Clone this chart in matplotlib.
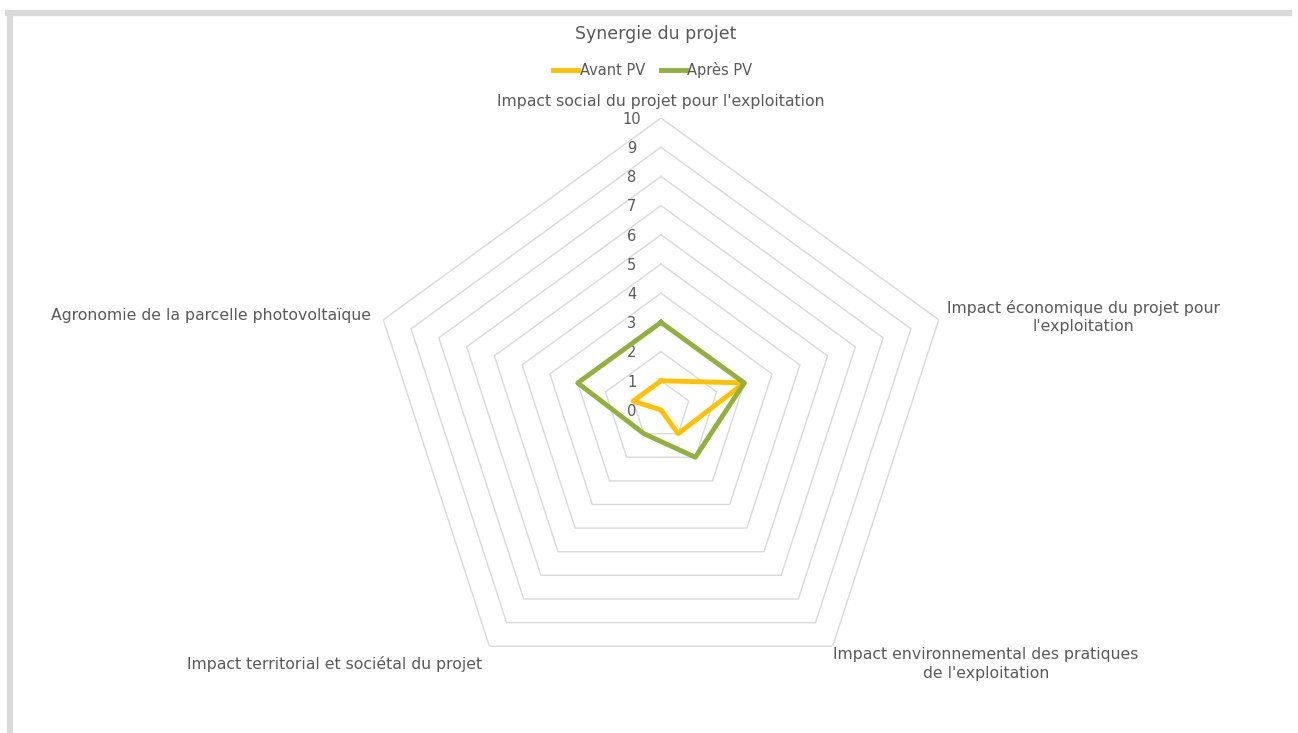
import numpy as np
import matplotlib
matplotlib.use('Agg')
import matplotlib.pyplot as plt
from matplotlib.lines import Line2D

# Radar chart "Synergie du projet" - before / after PV

categories = ["Impact social du projet pour l'exploitation",
              "Impact économique du projet pour\nl'exploitation",
              "Impact environnemental des pratiques\nde l'exploitation",
              "Impact territorial et sociétal du projet",
              "Agronomie de la parcelle photovoltaïque"]
avant_pv = [1, 3, 1, 0, 1]
apres_pv = [3, 3, 2, 1, 3]
levels = list(range(0, 11))

text_col = '#595959'
grid_col = '#d9d9d9'

fig = plt.figure(figsize=(12.98, 7.33), dpi=100)
fig.patch.set_facecolor('white')

# frame of the screenshot (top and left edge)
fig.add_artist(Line2D([0.006, 0.993], [0.982, 0.982], color='#d9d9d9', lw=4.5,
                      transform=fig.transFigure))
fig.add_artist(Line2D([0.0075, 0.0075], [0.0, 0.982], color='#d9d9d9', lw=4.5,
                      transform=fig.transFigure))

cx, cy, rad = 661 / 1298, 1 - 410 / 733, 292
ax = fig.add_axes([cx - rad / 1298, cy - rad / 733, 2 * rad / 1298, 2 * rad / 733],
                  projection='polar')
ax.set_theta_offset(np.pi / 2)
ax.set_theta_direction(-1)
ax.set_ylim(0, 10)
ax.grid(False)
ax.spines['polar'].set_visible(False)
ax.set_xticks([])
ax.set_yticks([])
ax.patch.set_alpha(0)

n = len(categories)
theta = np.linspace(0, 2 * np.pi, n, endpoint=False)
theta_c = np.append(theta, theta[0])

# pentagon grid
for lv in levels[1:]:
    ax.plot(theta_c, [lv] * (n + 1), color=grid_col, lw=1, zorder=1)

# value labels along the top axis
for lv in levels:
    ax.annotate(str(lv), xy=(0, lv), xytext=(-21, -1), textcoords='offset points',
                ha='center', va='center', fontsize=10.5, color=text_col,
                annotation_clip=False)

ax.plot(theta_c, avant_pv + avant_pv[:1], color='#FFC000', lw=3.5, zorder=3,
        label='Avant PV', solid_joinstyle='round')
ax.plot(theta_c, apres_pv + apres_pv[:1], color='#92B03C', lw=3.5, zorder=3,
        label='Après PV', solid_joinstyle='round')

# category labels
lab_pos = [(0, 10.3, 'center', 'bottom'),
           (theta[1], 10.3, 'left', 'center'),
           (theta[2], 10.05, 'left', 'top'),
           (theta[3], 10.4, 'right', 'top'),
           (theta[4], 10.45, 'right', 'center')]
for (t, r, ha, va), lab in zip(lab_pos, categories):
    ax.text(t, r, lab, ha=ha, va=va, fontsize=11.3, color=text_col,
            multialignment='center', linespacing=1.3)

fig.text(0.505, 0.953, 'Synergie du projet', ha='center', va='center',
         fontsize=12.5, color=text_col)
fig.legend(loc='center', bbox_to_anchor=(0.503, 0.905), ncol=2, frameon=False,
           fontsize=10.5, handlelength=1.7, handletextpad=0.1, columnspacing=1.1,
           labelcolor=text_col)

fig.savefig('out.png', dpi=100, facecolor='white')
